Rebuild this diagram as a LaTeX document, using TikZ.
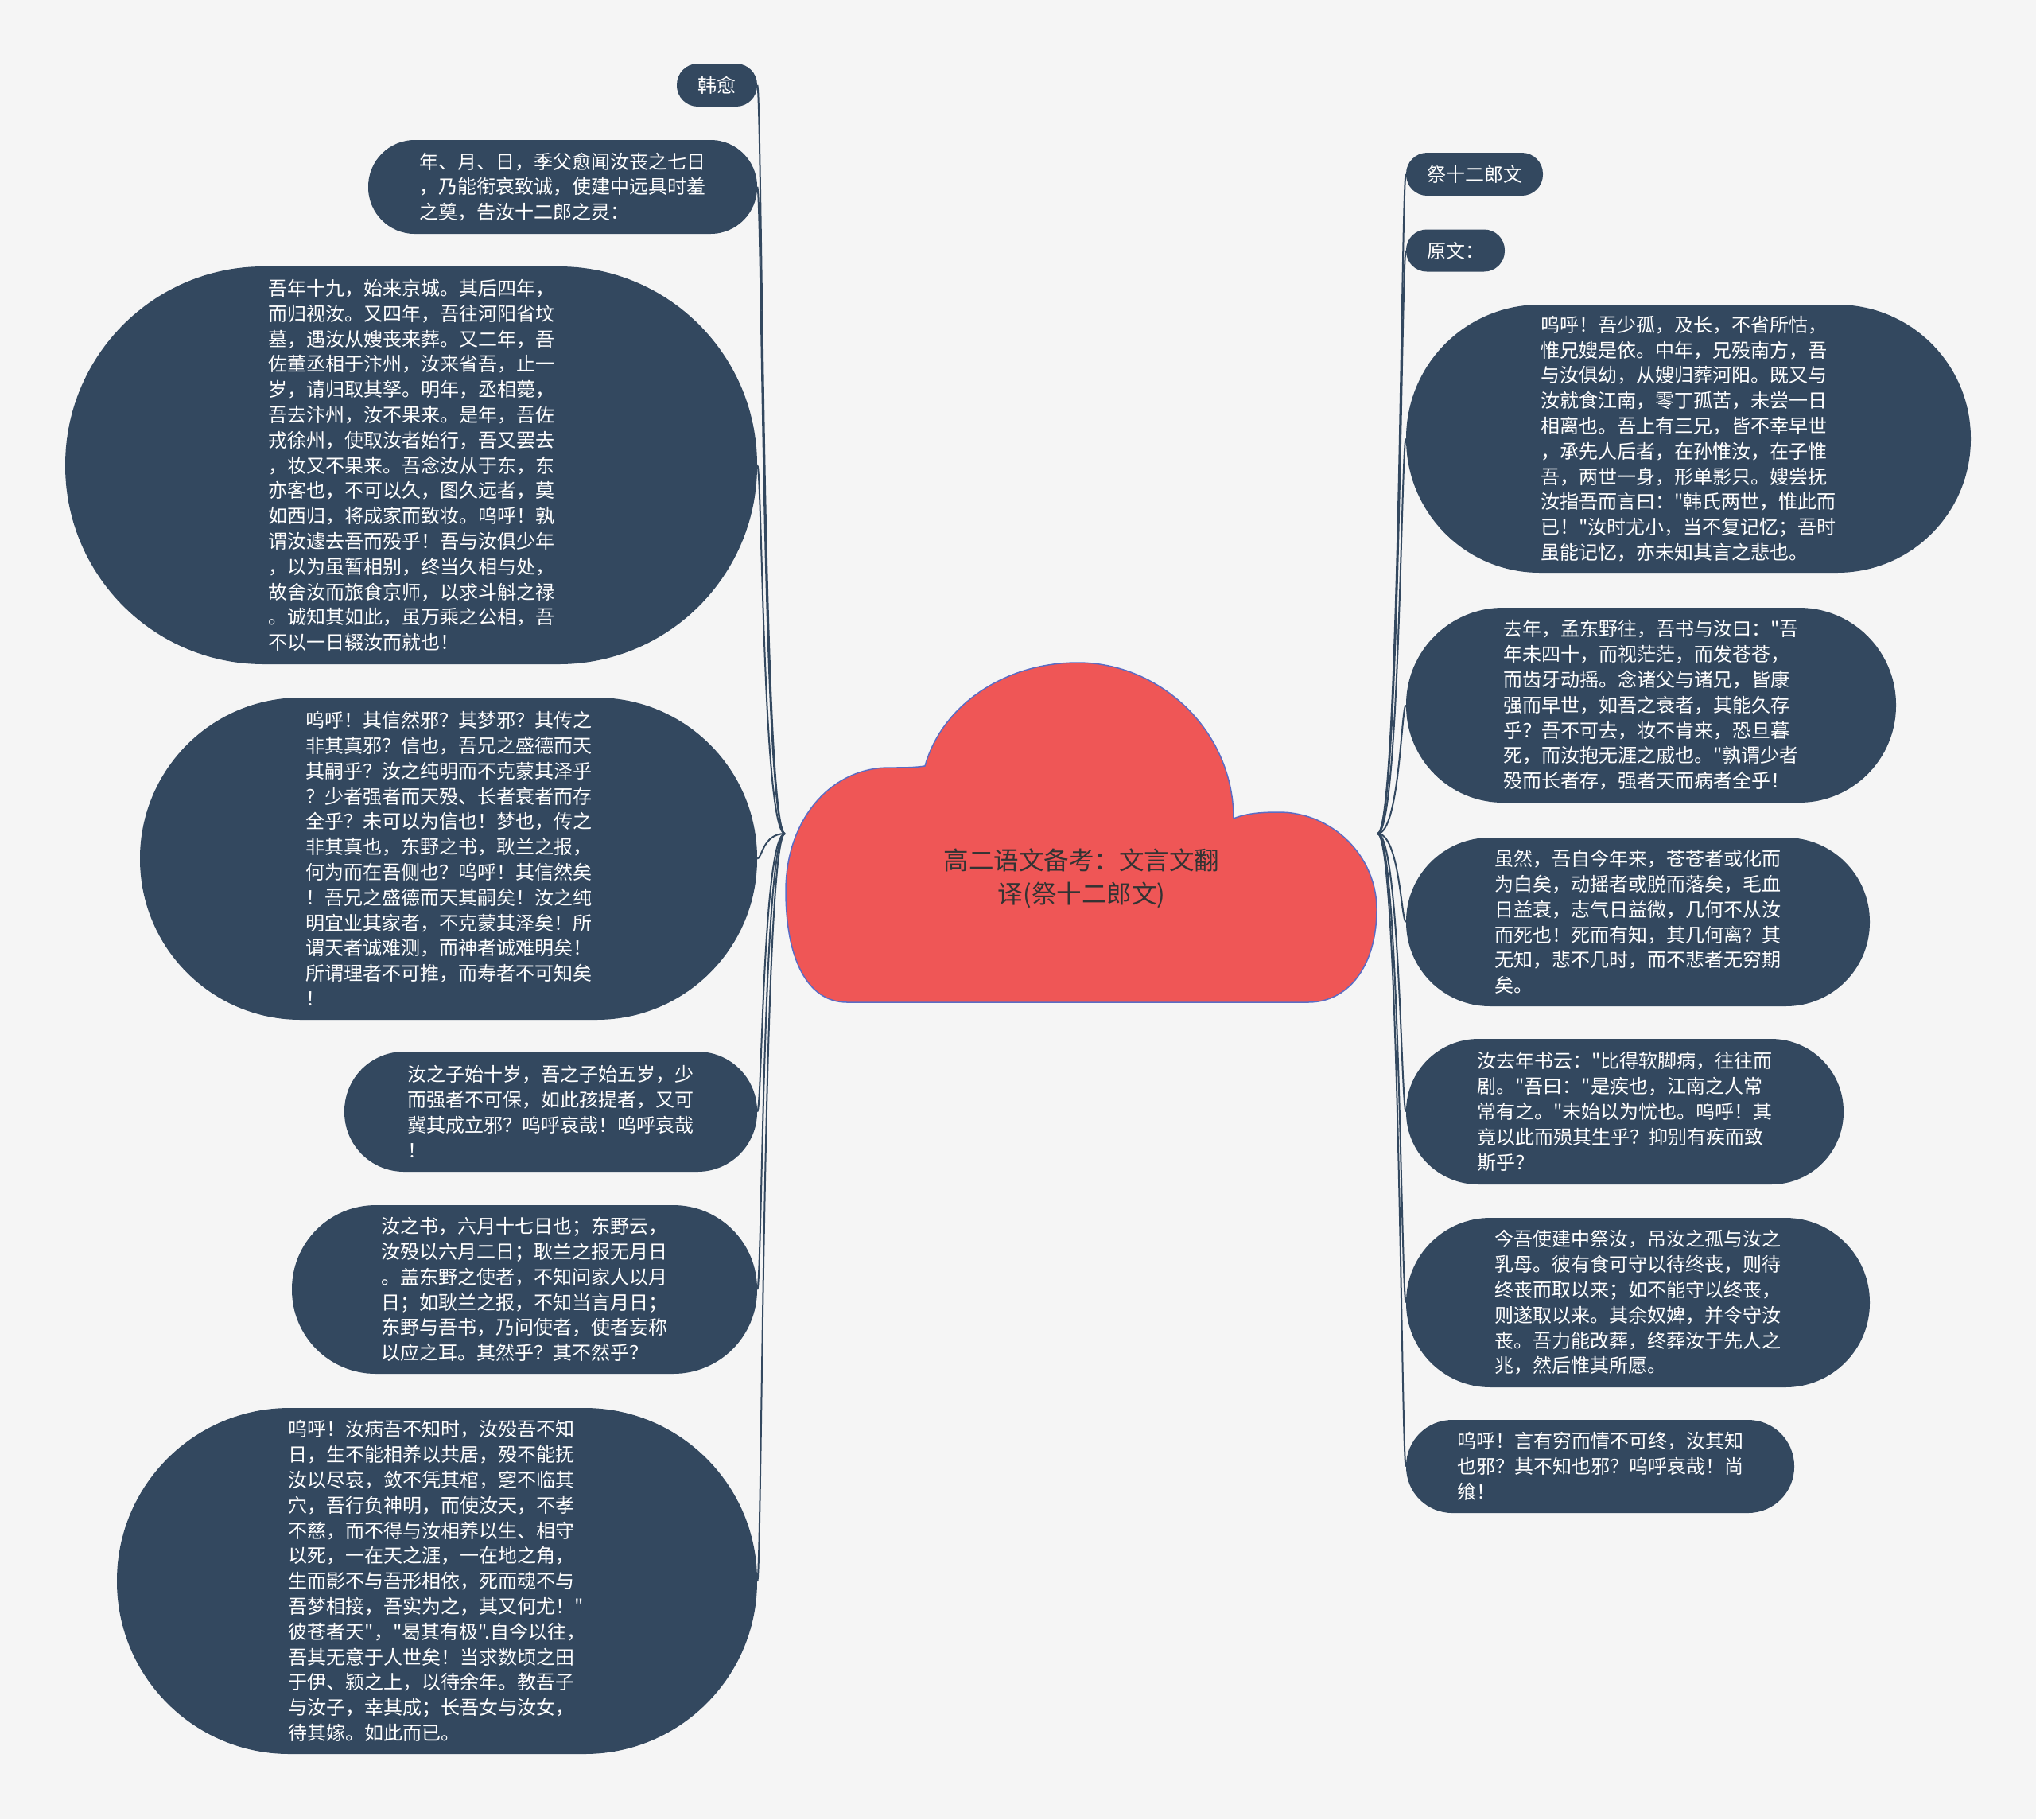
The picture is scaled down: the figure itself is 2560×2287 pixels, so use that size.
\documentclass[tikz,border=0pt]{standalone}
\usepackage{fontspec}
\newfontfamily\cjk{Noto Sans CJK SC}
\definecolor{bg}{HTML}{F5F5F5}
\definecolor{leafc}{HTML}{33485F}
\definecolor{cloudc}{HTML}{EF5656}
\definecolor{cloudline}{HTML}{5B6CC4}
\definecolor{roottext}{HTML}{333333}
\tikzset{
  leaf/.style={fill=leafc, text=white, align=left, inner sep=0pt,
    font=\cjk\fontsize{24}{31.8}\selectfont},
  conn/.style={draw=leafc, line width=2pt},
  cloudshape/.style={fill=cloudc, draw=cloudline, line width=1.5pt},
  roottxt/.style={text=roottext, align=center, inner sep=0pt,
    font=\cjk\fontsize{31.5}{42}\selectfont}
}
\begin{document}
\begin{tikzpicture}[x=1pt,y=-1pt]
\useasboundingbox (0,0) rectangle (2560,2287);
\fill[bg] (0,0) rectangle (2560,2287);

% central cloud
\path[cloudshape] (1065,1260)
  .. controls (1015,1260) and (988,1205) .. (988,1120)
  .. controls (988,1030) and (1045,965) .. (1118,965)
  .. controls (1135,965) and (1150,965) .. (1163,963)
  .. controls (1185,885) and (1265,833) .. (1355,833)
  .. controls (1460,833) and (1551,920) .. (1551,1029)
  .. controls (1568,1022) and (1588,1021) .. (1608,1021)
  .. controls (1675,1021) and (1731,1076) .. (1731,1143)
  .. controls (1731,1215) and (1695,1260) .. (1645,1260)
  -- cycle;
\node[roottxt] (root) at (1360,1104) {高二语文备考：文言文翻\\译(祭十二郎文)};
\coordinate (rootL) at (987,1048);
\coordinate (rootR) at (1732,1048);

% left nodes
\node[leaf, minimum width=101pt, minimum height=54pt, rounded corners=26.5pt] (L1) at (901.5,107) {韩愈};
\node[leaf, minimum width=489pt, minimum height=118pt, rounded corners=58.5pt] (L2) at (707.5,235) {年、月、日，季父愈闻汝丧之七日\\，乃能衔哀致诚，使建中远具时羞\\之奠，告汝十二郎之灵：};
\node[leaf, minimum width=870pt, minimum height=500pt, rounded corners=249.5pt] (L3) at (517,585) {吾年十九，始来京城。其后四年，\\而归视汝。又四年，吾往河阳省坟\\墓，遇汝从嫂丧来葬。又二年，吾\\佐董丞相于汴州，汝来省吾，止一\\岁，请归取其孥。明年，丞相薨，\\吾去汴州，汝不果来。是年，吾佐\\戎徐州，使取汝者始行，吾又罢去\\，妆又不果来。吾念汝从于东，东\\亦客也，不可以久，图久远者，莫\\如西归，将成家而致妆。呜呼！孰\\谓汝遽去吾而殁乎！吾与汝俱少年\\，以为虽暂相别，终当久相与处，\\故舍汝而旅食京师，以求斗斛之禄\\。诚知其如此，虽万乘之公相，吾\\不以一日辍汝而就也！};
\node[leaf, minimum width=776pt, minimum height=405pt, rounded corners=202pt] (L4) at (564,1079.5) {呜呼！其信然邪？其梦邪？其传之\\非其真邪？信也，吾兄之盛德而天\\其嗣乎？汝之纯明而不克蒙其泽乎\\？少者强者而天殁、长者衰者而存\\全乎？未可以为信也！梦也，传之\\非其真也，东野之书，耿兰之报，\\何为而在吾侧也？呜呼！其信然矣\\！吾兄之盛德而天其嗣矣！汝之纯\\明宜业其家者，不克蒙其泽矣！所\\谓天者诚难测，而神者诚难明矣！\\所谓理者不可推，而寿者不可知矣\\！};
\node[leaf, minimum width=519pt, minimum height=151pt, rounded corners=75pt] (L5) at (692.5,1397.5) {汝之子始十岁，吾之子始五岁，少\\而强者不可保，如此孩提者，又可\\冀其成立邪？呜呼哀哉！呜呼哀哉\\！};
\node[leaf, minimum width=585pt, minimum height=212pt, rounded corners=105.5pt] (L6) at (659.5,1621) {汝之书，六月十七日也；东野云，\\汝殁以六月二日；耿兰之报无月日\\。盖东野之使者，不知问家人以月\\日；如耿兰之报，不知当言月日；\\东野与吾书，乃问使者，使者妄称\\以应之耳。其然乎？其不然乎？};
\node[leaf, minimum width=805pt, minimum height=435pt, rounded corners=217pt] (L7) at (549.5,1987.5) {呜呼！汝病吾不知时，汝殁吾不知\\日，生不能相养以共居，殁不能抚\\汝以尽哀，敛不凭其棺，窆不临其\\穴，吾行负神明，而使汝天，不孝\\不慈，而不得与汝相养以生、相守\\以死，一在天之涯，一在地之角，\\生而影不与吾形相依，死而魂不与\\吾梦相接，吾实为之，其又何尤！"\\彼苍者天"，"曷其有极".自今以往，\\吾其无意于人世矣！当求数顷之田\\于伊、颍之上，以待余年。教吾子\\与汝子，幸其成；长吾女与汝女，\\待其嫁。如此而已。};

% right nodes
\node[leaf, minimum width=172pt, minimum height=54pt, rounded corners=26.5pt] (R1) at (1854,219) {祭十二郎文};
\node[leaf, minimum width=124pt, minimum height=53pt, rounded corners=26pt] (R2) at (1830,315) {原文：};
\node[leaf, minimum width=710pt, minimum height=337pt, rounded corners=168pt] (R3) at (2123,551.5) {呜呼！吾少孤，及长，不省所怙，\\惟兄嫂是依。中年，兄殁南方，吾\\与汝俱幼，从嫂归葬河阳。既又与\\汝就食江南，零丁孤苦，未尝一日\\相离也。吾上有三兄，皆不幸早世\\，承先人后者，在孙惟汝，在子惟\\吾，两世一身，形单影只。嫂尝抚\\汝指吾而言曰："韩氏两世，惟此而\\已！"汝时尤小，当不复记忆；吾时\\虽能记忆，亦未知其言之悲也。};
\node[leaf, minimum width=616pt, minimum height=245pt, rounded corners=122pt] (R4) at (2076,886.5) {去年，孟东野往，吾书与汝曰："吾\\年未四十，而视茫茫，而发苍苍，\\而齿牙动摇。念诸父与诸兄，皆康\\强而早世，如吾之衰者，其能久存\\乎？吾不可去，妆不肯来，恐旦暮\\死，而汝抱无涯之戚也。"孰谓少者\\殁而长者存，强者天而病者全乎！};
\node[leaf, minimum width=583pt, minimum height=212pt, rounded corners=105.5pt] (R5) at (2059.5,1159) {虽然，吾自今年来，苍苍者或化而\\为白矣，动摇者或脱而落矣，毛血\\日益衰，志气日益微，几何不从汝\\而死也！死而有知，其几何离？其\\无知，悲不几时，而不悲者无穷期\\矣。};
\node[leaf, minimum width=550pt, minimum height=183pt, rounded corners=91pt] (R6) at (2043,1397.5) {汝去年书云："比得软脚病，往往而\\剧。"吾曰："是疾也，江南之人常\\常有之。"未始以为忧也。呜呼！其\\竟以此而殒其生乎？抑别有疾而致\\斯乎？};
\node[leaf, minimum width=583pt, minimum height=213pt, rounded corners=106pt] (R7) at (2059.5,1637.5) {今吾使建中祭汝，吊汝之孤与汝之\\乳母。彼有食可守以待终丧，则待\\终丧而取以来；如不能守以终丧，\\则遂取以来。其余奴婢，并令守汝\\丧。吾力能改葬，终葬汝于先人之\\兆，然后惟其所愿。};
\node[leaf, minimum width=488pt, minimum height=117pt, rounded corners=58pt] (R8) at (2012,1843.5) {呜呼！言有穷而情不可终，汝其知\\也邪？其不知也邪？呜呼哀哉！尚\\飨！};

% connectors
\foreach \n in {L1,L2,L3,L4,L5,L6,L7}
  \draw[conn] (rootL) .. controls +(-28,0) and +(6,0) .. (\n.east);
\foreach \n in {R1,R2,R3,R4,R5,R6,R7,R8}
  \draw[conn] (rootR) .. controls +(28,0) and +(-6,0) .. (\n.west);
\end{tikzpicture}
\end{document}
